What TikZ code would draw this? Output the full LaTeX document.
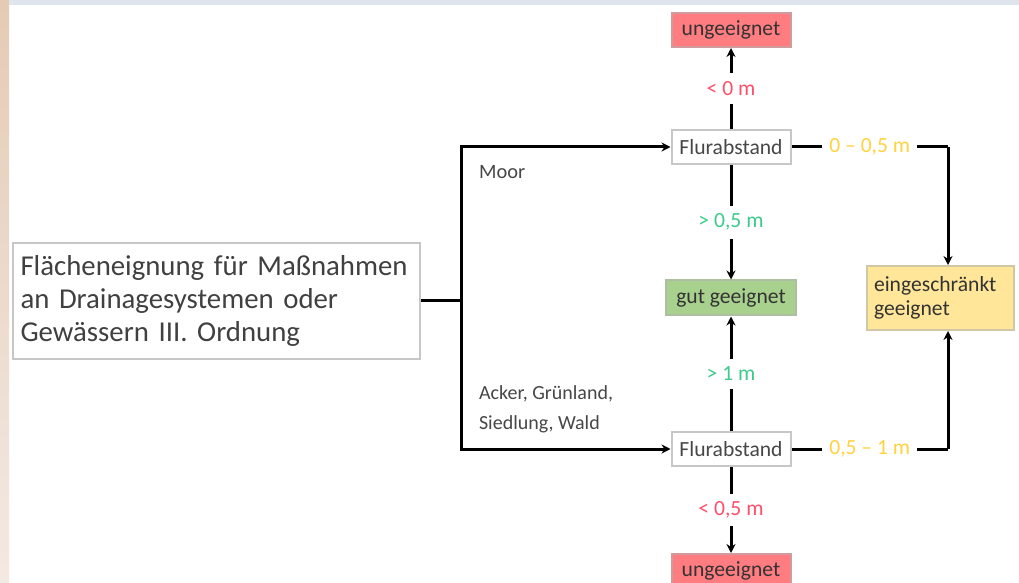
\documentclass[tikz,border=0pt]{standalone}
\usepackage{fontspec}
\setmainfont{Carlito}
\usetikzlibrary{arrows.meta,positioning}
\definecolor{badfill}{HTML}{FF7C80}
\definecolor{goodfill}{HTML}{A9D18E}
\definecolor{midfill}{HTML}{FFE699}
\definecolor{badtxt}{HTML}{FF4F6A}
\definecolor{goodtxt}{HTML}{3CCB8C}
\definecolor{midtxt}{HTML}{FFD23F}
\definecolor{stripetop}{HTML}{E5CBB5}
\definecolor{stripebot}{HTML}{F3E9E3}
\definecolor{bandcol}{HTML}{DEE5EC}

\begin{document}
\begin{tikzpicture}[x=0.5pt, y=-0.5pt,
    box/.style={draw=black!22, line width=1pt, fill=white, minimum width=59.5pt, minimum height=17pt, inner sep=1pt, font=\fontsize{10.8}{12}\selectfont, text=black!72},
    result/.style={draw=#1!70!black!60, line width=1pt, fill=#1, minimum width=59.5pt, minimum height=17pt, inner sep=1pt, font=\fontsize{10.8}{12}\selectfont, text=black!80},
    lbl/.style={fill=white, inner xsep=3.5pt, inner ysep=4pt, font=\fontsize{10.8}{12}\selectfont},
    arr/.style={-{Stealth[length=4.5pt,width=4.5pt]}, line width=1.5pt},
    ln/.style={line width=1.5pt}
]
\useasboundingbox (0,0) rectangle (1019,583);
% Hintergrund
\fill[white] (0,0) rectangle (1019,583);
\shade[top color=stripetop, bottom color=stripebot] (0,0) rectangle (9,583);
\fill[bandcol] (9,0) rectangle (1019,5);

\node[box, minimum width=203.5pt, minimum height=58pt, align=left, text width=196pt, font=\fontsize{14.4}{16.5}\selectfont, text=black!75] (main) at (216.5,301) {Flächeneignung für Maßnahmen\\an Drainagesystemen oder\\Gewässern III. Ordnung};

\node[box] (fa1) at (731,147) {Flurabstand};
\node[box] (fa2) at (731,449) {Flurabstand};
\node[result=badfill] (bad1) at (731,30) {ungeeignet};
\node[result=badfill] (bad2) at (731,571) {ungeeignet};
\node[result=goodfill, minimum width=65pt, minimum height=17.5pt] (good) at (731,298) {gut geeignet};
\node[result=midfill, minimum width=73.5pt, minimum height=32pt, align=left, text width=66pt] (mid) at (940,298) {eingeschränkt\\geeignet};

\node[anchor=west, font=\fontsize{10.2}{11}\selectfont, text=black!72] (moor) at (472,172) {Moor};
\node[anchor=north west, align=left, font=\fontsize{10}{15}\selectfont, text=black!72] (acker) at (472,379) {Acker, Grünland,\\Siedlung, Wald};

\coordinate (j) at (461,301);
\coordinate (k1) at (948,147);
\coordinate (k2) at (948,449);

\draw[ln] (main) -- (j);
\draw[arr] (j) |- (fa1);
\draw[arr] (j) |- (fa2);

\draw[arr] (fa1) -- node[lbl, text=badtxt] {< 0 m} (bad1);
\draw[arr] (fa1) -- node[lbl, text=goodtxt] {> 0,5 m} (good);
\draw[arr] (fa2) -- node[lbl, text=goodtxt] {> 1 m} (good);
\draw[arr] (fa2) -- node[lbl, text=badtxt] {< 0,5 m} (bad2);

\draw[ln] (fa1) -- node[lbl, text=midtxt] {0 – 0,5 m} (k1);
\draw[arr] (k1) -- (k1 |- mid.north);
\draw[ln] (fa2) -- node[lbl, text=midtxt] {0,5 – 1 m} (k2);
\draw[arr] (k2) -- (k2 |- mid.south);
\end{tikzpicture}
\end{document}
